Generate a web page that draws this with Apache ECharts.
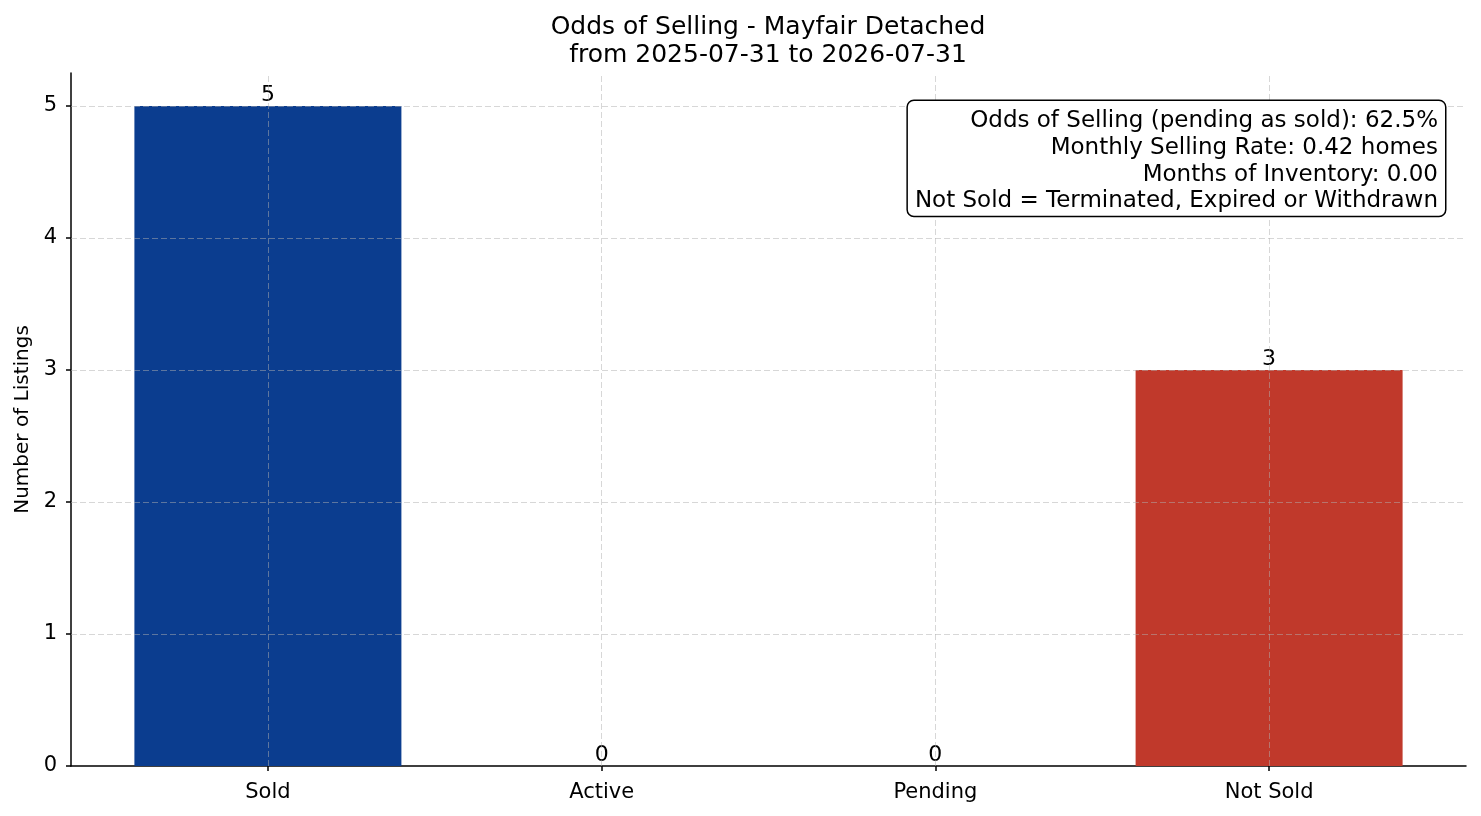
<!DOCTYPE html>
<html>
<head>
<meta charset="utf-8">
<script src="https://cdn.jsdelivr.net/npm/echarts@6/dist/echarts.min.js"></script>
<style>
html,body{margin:0;padding:0;background:#fff;}
#chart{width:1481px;height:816px;}
</style>
</head>
<body>
<div id="chart"></div>
<script>
const categories = ['Sold', 'Active', 'Pending', 'Not Sold'];
const counts = [5, 0, 0, 3];
const barColors = ['#0b3d8f', '#0b3d8f', '#0b3d8f', '#c0392b'];
const yTicks = [0, 1, 2, 3, 4, 5];
const titleLines = ['Odds of Selling - Mayfair Detached', 'from 2025-07-31 to 2026-07-31'];
const infoLines = [
  'Odds of Selling (pending as sold): 62.5%',
  'Monthly Selling Rate: 0.42 homes',
  'Months of Inventory: 0.00',
  'Not Sold = Terminated, Expired or Withdrawn'
];

const FONT = 'DejaVu Sans';
const xIdx = categories.map((c, i) => i);
const gridStyle = { color: '#b0b0b0', opacity: 0.5, width: 1, type: [6, 3] };

const chart = echarts.init(document.getElementById('chart'), null, { renderer: 'canvas' });
chart.setOption({
  backgroundColor: '#fff',
  animation: false,
  textStyle: { fontFamily: FONT },
  title: {
    text: titleLines.join('\n'),
    left: 763,
    top: 8,
    textAlign: 'center',
    textStyle: { fontFamily: FONT, fontSize: 25, fontWeight: 'normal', color: '#000', lineHeight: 28 }
  },
  grid: { left: 71, right: 15, top: 73, bottom: 50, outerBoundsMode: 'none', containLabel: false },
  xAxis: {
    type: 'value',
    min: -0.59,
    max: 3.59,
    splitLine: { show: false },
    axisLine: { show: true, onZero: false, lineStyle: { color: '#000', width: 1.5 } },
    axisTick: { show: true, inside: false, length: 5, customValues: xIdx, lineStyle: { color: '#000', width: 1.5 } },
    axisLabel: {
      customValues: xIdx,
      formatter: v => categories[Math.round(v)],
      fontFamily: FONT, fontSize: 21, color: '#000', margin: 16
    }
  },
  yAxis: {
    type: 'value',
    min: 0,
    max: 5.25,
    interval: 1,
    name: 'Number of Listings',
    nameLocation: 'middle',
    nameGap: 36,
    nameTextStyle: { fontFamily: FONT, fontSize: 20, color: '#000' },
    splitLine: { show: false },
    axisLine: { show: true, onZero: false, lineStyle: { color: '#000', width: 1.5 } },
    axisTick: { show: true, inside: false, length: 5, customValues: yTicks, lineStyle: { color: '#000', width: 1.5 } },
    axisLabel: {
      customValues: yTicks,
      fontFamily: FONT, fontSize: 21, color: '#000', margin: 14
    }
  },
  series: [{
    type: 'bar',
    barWidth: 267,
    data: xIdx.map(i => ({ value: [i, counts[i]], itemStyle: { color: barColors[i] } })),
    label: {
      show: true,
      position: 'top',
      distance: 0,
      fontFamily: FONT, fontSize: 22, color: '#000',
      formatter: p => String(p.value[1])
    },
    markLine: {
      silent: true,
      symbol: 'none',
      z: 3,
      label: { show: false },
      emphasis: { disabled: true },
      lineStyle: gridStyle,
      data: xIdx.map(i => ({ xAxis: i })).concat(yTicks.filter(v => v > 0).map(v => ({ yAxis: v })))
    }
  }],
  graphic: [{
    type: 'text',
    z: 100,
    x: 1445,
    y: 101,
    style: {
      text: infoLines.join('\n'),
      font: '23px "DejaVu Sans"',
      fill: '#000',
      align: 'right',
      textAlign: 'right',
      verticalAlign: 'top',
      lineHeight: 26.7,
      backgroundColor: '#fff',
      borderColor: '#000',
      borderWidth: 1.5,
      borderRadius: 6,
      padding: [7, 7, 1, 7]
    }
  }]
});
</script>
</body>
</html>
